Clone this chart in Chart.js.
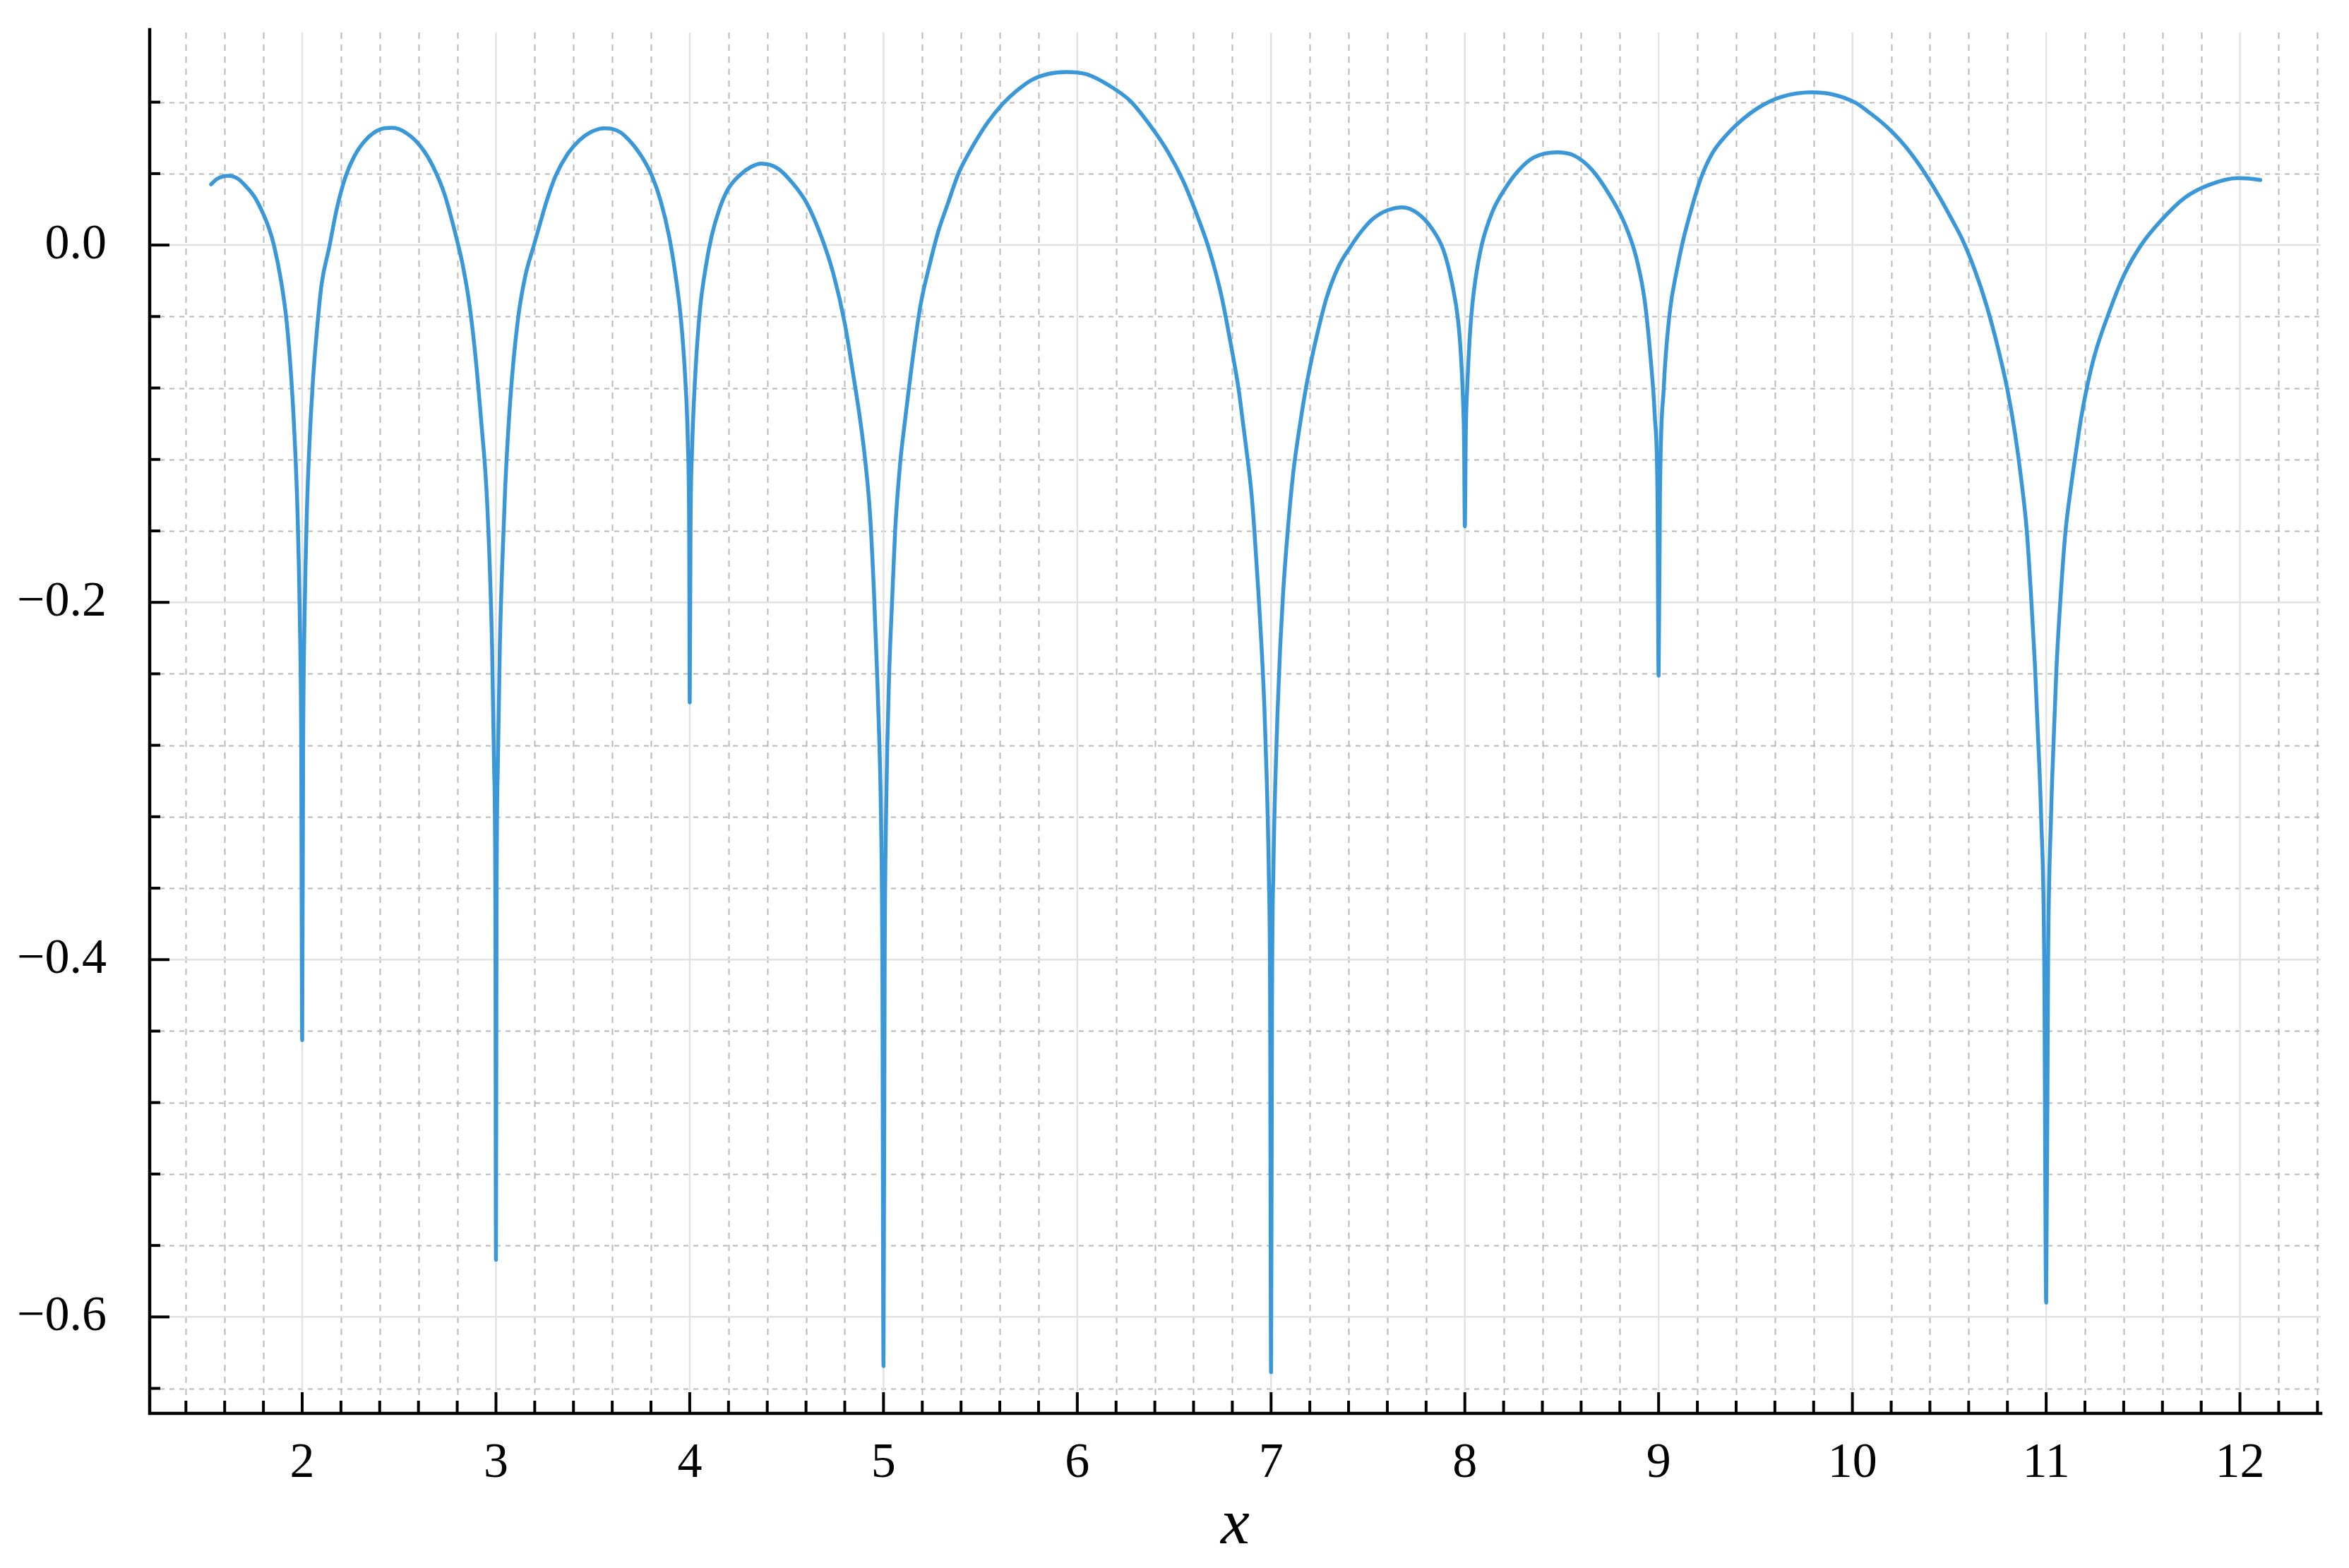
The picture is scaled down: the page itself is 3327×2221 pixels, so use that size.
<!DOCTYPE html>
<html>
<head>
<meta charset="utf-8">
<script src="https://cdn.jsdelivr.net/npm/chart.js@4.4.1/dist/chart.umd.min.js"></script>
<style>
  html, body { margin: 0; padding: 0; background: #ffffff; }
  #wrap { width: 3327px; height: 2221px; position: relative; }
</style>
</head>
<body>
<div id="wrap"><canvas id="c" width="3327" height="2221"></canvas></div>
<script>
// ---- data ----
const xValues = [
  1.53, 1.56, 1.62, 1.67, 1.71, 1.756, 1.80, 1.83, 1.854, 1.891,
  1.92, 1.944, 1.962, 1.976, 1.988, 1.995, 2.0, 2.005, 2.012, 2.024,
  2.038, 2.056, 2.08, 2.10, 2.14, 2.178, 2.223, 2.268, 2.329, 2.404,
  2.465, 2.54, 2.615, 2.676, 2.736, 2.796, 2.83, 2.864, 2.894, 2.925,
  2.95, 2.968, 2.98, 2.99, 2.997, 3.0, 3.003, 3.01, 3.02, 3.032,
  3.048, 3.075, 3.113, 3.15, 3.196, 3.23, 3.264, 3.309, 3.37, 3.43,
  3.49, 3.558, 3.60, 3.641, 3.683, 3.72, 3.758, 3.804, 3.849, 3.894,
  3.925, 3.955, 3.977, 3.99, 3.997, 4.0, 4.004, 4.012, 4.03, 4.053,
  4.083, 4.113, 4.151, 4.196, 4.257, 4.317, 4.37, 4.453, 4.528, 4.604,
  4.679, 4.74, 4.80, 4.845, 4.881, 4.905, 4.93, 4.951, 4.967, 4.979,
  4.987, 4.994, 5.0, 5.006, 5.013, 5.0195, 5.029, 5.044, 5.06, 5.086,
  5.109, 5.155, 5.192, 5.238, 5.283, 5.328, 5.389, 5.464, 5.54, 5.615,
  5.691, 5.766, 5.85, 5.943, 6.048, 6.169, 6.275, 6.38, 6.471, 6.546,
  6.622, 6.682, 6.743, 6.788, 6.833, 6.852, 6.871, 6.898, 6.914, 6.935,
  6.951, 6.966, 6.978, 6.988, 6.995, 7.0, 7.005, 7.012, 7.022, 7.034,
  7.047, 7.062, 7.086, 7.115, 7.15, 7.18, 7.21, 7.24, 7.286, 7.346,
  7.406, 7.467, 7.527, 7.602, 7.678, 7.753, 7.829, 7.89, 7.935, 7.965,
  7.98, 7.99, 7.996, 8.0, 8.005, 8.013, 8.025, 8.038, 8.055, 8.087,
  8.143, 8.204, 8.279, 8.355, 8.475, 8.566, 8.657, 8.747, 8.823, 8.883,
  8.928, 8.958, 8.981, 8.994, 9.0, 9.007, 9.026, 9.056, 9.094, 9.125,
  9.17, 9.215, 9.275, 9.351, 9.442, 9.532, 9.638, 9.789, 9.894, 10.015,
  10.087, 10.15, 10.21, 10.27, 10.33, 10.39, 10.45, 10.51, 10.57, 10.63,
  10.69, 10.75, 10.80, 10.84, 10.87, 10.90, 10.924, 10.942, 10.956, 10.974,
  10.99, 11.0, 11.01, 11.025, 11.039, 11.053, 11.08, 11.10, 11.126, 11.158,
  11.18, 11.204, 11.249, 11.325, 11.40, 11.49, 11.596, 11.717, 11.838, 11.989,
  12.05, 12.105
];
const yValues = [
  0.034, 0.037, 0.0388, 0.037, 0.0328, 0.0266, 0.0172, 0.009, 0.0, -0.020,
  -0.043, -0.075, -0.110, -0.150, -0.210, -0.280, -0.445, -0.280, -0.210, -0.150,
  -0.110, -0.075, -0.043, -0.022, -0.001, 0.020, 0.038, 0.0495, 0.059, 0.0648,
  0.0656, 0.0625, 0.0547, 0.0438, 0.028, 0.004, -0.012, -0.034, -0.062, -0.100,
  -0.135, -0.180, -0.225, -0.290, -0.370, -0.568, -0.370, -0.290, -0.225, -0.180,
  -0.135, -0.085, -0.042, -0.018, 0.0, 0.013, 0.0255, 0.039, 0.051, 0.0586,
  0.0633, 0.0654, 0.0650, 0.0632, 0.0592, 0.0545, 0.0485, 0.039, 0.025, 0.0047,
  -0.0156, -0.042, -0.075, -0.110, -0.160, -0.256, -0.160, -0.115, -0.070, -0.036,
  -0.012, 0.005, 0.0195, 0.031, 0.039, 0.0438, 0.0456, 0.043, 0.035, 0.0234,
  0.0047, -0.0156, -0.0438, -0.0734, -0.099, -0.120, -0.150, -0.195, -0.240, -0.280,
  -0.320, -0.400, -0.6275, -0.400, -0.320, -0.280, -0.240, -0.200, -0.160, -0.122,
  -0.100, -0.060, -0.033, -0.011, 0.0078, 0.022, 0.0406, 0.056, 0.069, 0.079,
  0.0867, 0.0925, 0.0958, 0.0969, 0.0956, 0.089, 0.0805, 0.0664, 0.0516, 0.036,
  0.0156, -0.003, -0.028, -0.053, -0.081, -0.097, -0.113, -0.138, -0.160, -0.195,
  -0.225, -0.260, -0.300, -0.350, -0.420, -0.631, -0.420, -0.350, -0.300, -0.260,
  -0.225, -0.195, -0.160, -0.127, -0.100, -0.080, -0.0635, -0.049, -0.0297, -0.0125,
  -0.0016, 0.0078, 0.0148, 0.0195, 0.0211, 0.018, 0.0094, -0.003, -0.022, -0.042,
  -0.062, -0.085, -0.110, -0.1575, -0.105, -0.078, -0.052, -0.034, -0.019, 0.0,
  0.0188, 0.031, 0.042, 0.049, 0.0519, 0.050, 0.042, 0.028, 0.0125, -0.0063,
  -0.031, -0.0625, -0.097, -0.140, -0.241, -0.140, -0.081, -0.039, -0.014, 0.002,
  0.0205, 0.0365, 0.051, 0.0617, 0.0711, 0.078, 0.0831, 0.0855, 0.0844, 0.0797,
  0.0742, 0.0688, 0.0628, 0.0557, 0.0472, 0.0375, 0.0268, 0.015, 0.0025, -0.0135,
  -0.033, -0.057, -0.081, -0.106, -0.130, -0.160, -0.200, -0.235, -0.270, -0.320,
  -0.400, -0.592, -0.400, -0.320, -0.276, -0.237, -0.188, -0.160, -0.137, -0.1125,
  -0.097, -0.083, -0.062, -0.0375, -0.0172, 0.0, 0.0141, 0.0266, 0.0336, 0.0375,
  0.0372, 0.0364
];
const xTickValues = [2, 3, 4, 5, 6, 7, 8, 9, 10, 11, 12];
const xTickLabels = ['2', '3', '4', '5', '6', '7', '8', '9', '10', '11', '12'];
const yTickValues = [-0.6, -0.4, -0.2, 0.0];
const yTickLabels = ['\u22120.6', '\u22120.4', '\u22120.2', '0.0'];
const xAxisTitle = 'x';

// ---- styling ----
const LINE_COLOR = '#3a97d8';
const X_MIN = 1.213, X_MAX = 12.417, Y_MIN = -0.654, Y_MAX = 0.119;
const X_MINOR_STEP = 0.2, Y_MINOR_STEP = 0.04;

const points = xValues.map((x, i) => ({ x: x, y: yValues[i] }));

function minorValues(min, max, step, majorEvery) {
  const out = [];
  const k0 = Math.ceil(min / step - 1e-9), k1 = Math.floor(max / step + 1e-9);
  for (let k = k0; k <= k1; k++) {
    if (k % majorEvery !== 0) out.push(k * step);
  }
  return out;
}

const decor = {
  id: 'decor',
  beforeDatasetsDraw(chart) {
    const { ctx, chartArea: a, scales: { x, y } } = chart;
    ctx.save();
    ctx.strokeStyle = '#b9b9b9';
    ctx.lineWidth = 2;
    ctx.setLineDash([9, 8]);
    for (const v of minorValues(X_MIN, X_MAX, X_MINOR_STEP, 5)) {
      const px = Math.round(x.getPixelForValue(v)) + 0.5;
      ctx.beginPath(); ctx.moveTo(px, a.top); ctx.lineTo(px, a.bottom); ctx.stroke();
    }
    ctx.setLineDash([7, 7]);
    for (const v of minorValues(Y_MIN, Y_MAX, Y_MINOR_STEP, 5)) {
      const py = Math.round(y.getPixelForValue(v)) + 0.5;
      ctx.beginPath(); ctx.moveTo(a.left, py); ctx.lineTo(a.right, py); ctx.stroke();
    }
    ctx.setLineDash([]);
    ctx.strokeStyle = '#e2e2e2';
    ctx.lineWidth = 2.5;
    for (const v of xTickValues) {
      const px = x.getPixelForValue(v);
      ctx.beginPath(); ctx.moveTo(px, a.top); ctx.lineTo(px, a.bottom); ctx.stroke();
    }
    for (const v of yTickValues) {
      const py = y.getPixelForValue(v);
      ctx.beginPath(); ctx.moveTo(a.left, py); ctx.lineTo(a.right, py); ctx.stroke();
    }
    ctx.restore();
  },
  afterDatasetsDraw(chart) {
    const { ctx, chartArea: a, scales: { x, y } } = chart;
    ctx.save();
    ctx.strokeStyle = '#000000';
    ctx.lineCap = 'butt';
    ctx.lineWidth = 4;
    for (const v of xTickValues) {
      const px = x.getPixelForValue(v);
      ctx.beginPath(); ctx.moveTo(px, a.bottom); ctx.lineTo(px, a.bottom - 30); ctx.stroke();
    }
    for (const v of minorValues(X_MIN, X_MAX, X_MINOR_STEP, 5)) {
      const px = x.getPixelForValue(v);
      ctx.beginPath(); ctx.moveTo(px, a.bottom); ctx.lineTo(px, a.bottom - 18); ctx.stroke();
    }
    for (const v of yTickValues) {
      const py = y.getPixelForValue(v);
      ctx.beginPath(); ctx.moveTo(a.left, py); ctx.lineTo(a.left + 28, py); ctx.stroke();
    }
    for (const v of minorValues(Y_MIN, Y_MAX, Y_MINOR_STEP, 5)) {
      const py = y.getPixelForValue(v);
      ctx.beginPath(); ctx.moveTo(a.left, py); ctx.lineTo(a.left + 15, py); ctx.stroke();
    }
    ctx.lineWidth = 4.5;
    ctx.lineCap = 'square';
    ctx.beginPath();
    ctx.moveTo(a.left, a.top - 4);
    ctx.lineTo(a.left, a.bottom);
    ctx.lineTo(a.right, a.bottom);
    ctx.stroke();
    ctx.restore();
  }
};

new Chart(document.getElementById('c'), {
  type: 'line',
  data: {
    datasets: [{
      data: points,
      borderColor: LINE_COLOR,
      backgroundColor: LINE_COLOR,
      borderWidth: 5.5,
      pointRadius: 0,
      fill: false,
      cubicInterpolationMode: 'monotone',
      borderJoinStyle: 'round',
      borderCapStyle: 'round'
    }]
  },
  options: {
    responsive: false,
    animation: false,
    devicePixelRatio: 1,
    layout: { padding: { top: 46, right: 40, left: 0, bottom: 0 } },
    plugins: { legend: { display: false }, tooltip: { enabled: false } },
    scales: {
      x: {
        type: 'linear',
        min: X_MIN, max: X_MAX,
        grid: { display: false },
        border: { display: false },
        afterBuildTicks(scale) { scale.ticks = xTickValues.map(v => ({ value: v })); },
        afterFit(scale) { scale.height = 219; scale.paddingLeft = 0; scale.paddingRight = 0; },
        ticks: {
          autoSkip: false,
          maxRotation: 0,
          padding: 22,
          color: '#000000',
          font: { family: 'Liberation Serif', size: 70 },
          callback(v) { const i = xTickValues.indexOf(v); return i >= 0 ? xTickLabels[i] : ''; }
        },
        title: {
          display: true,
          text: xAxisTitle,
          color: '#000000',
          font: { family: 'Liberation Serif', size: 92, style: 'italic' },
          padding: { top: 0, bottom: 4 }
        }
      },
      y: {
        type: 'linear',
        min: Y_MIN, max: Y_MAX,
        grid: { display: false },
        border: { display: false },
        afterBuildTicks(scale) { scale.ticks = yTickValues.map(v => ({ value: v })); },
        afterFit(scale) { scale.width = 212; scale.paddingTop = 0; scale.paddingBottom = 0; },
        ticks: {
          autoSkip: false,
          padding: 53,
          color: '#000000',
          font: { family: 'Liberation Serif', size: 70 },
          callback(v) {
            const i = yTickValues.findIndex(t => Math.abs(t - v) < 1e-9);
            return i >= 0 ? yTickLabels[i] : '';
          }
        }
      }
    }
  },
  plugins: [decor]
});
</script>
</body>
</html>
